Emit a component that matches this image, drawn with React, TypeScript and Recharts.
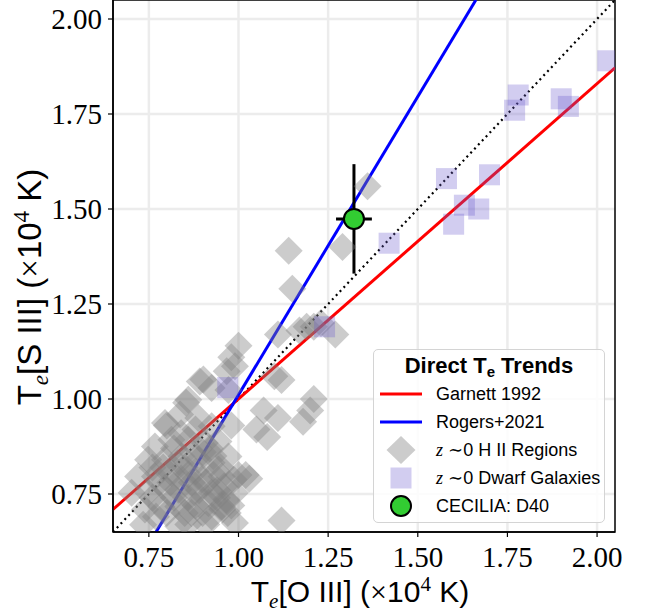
import React from 'react';
import {
  ComposedChart,
  Scatter,
  Line,
  XAxis,
  YAxis,
  CartesianGrid,
  ErrorBar,
  Legend,
  ReferenceArea,
} from 'recharts';

// ---------- data ----------
const xDomain: [number, number] = [0.65, 2.05];
const yDomain: [number, number] = [0.65, 2.05];
const xTicks = [0.75, 1.0, 1.25, 1.5, 1.75, 2.0];
const yTicks = [0.75, 1.0, 1.25, 1.5, 1.75, 2.0];

// z~0 H II regions (T[O III], T[S III]) in 1e4 K
const hiiRegions = [
  { x: 1.36, y: 1.56 }, { x: 1.29, y: 1.40 }, { x: 1.14, y: 1.39 }, { x: 1.15, y: 1.29 },
  { x: 1.27, y: 1.17 }, { x: 1.17, y: 1.18 }, { x: 1.19, y: 1.19 }, { x: 1.21, y: 1.19 },
  { x: 1.23, y: 1.2 }, { x: 1.11, y: 1.17 }, { x: 1.0, y: 1.14 }, { x: 0.98, y: 1.11 },
  { x: 1.1, y: 1.06 }, { x: 1.12, y: 1.05 }, { x: 1.21, y: 1.0 }, { x: 1.2, y: 0.97 },
  { x: 1.18, y: 0.94 }, { x: 1.07, y: 0.97 }, { x: 1.11, y: 0.95 }, { x: 1.08, y: 0.9 },
  { x: 1.05, y: 0.92 }, { x: 1.03, y: 0.79 }, { x: 1.0, y: 0.8 }, { x: 1.12, y: 0.68 },
  { x: 0.98, y: 0.72 }, { x: 0.98, y: 0.93 },
  { x: 0.967, y: 1.073 }, { x: 0.99, y: 1.086 }, { x: 0.902, y: 1.051 }, { x: 0.925, y: 1.029 },
  { x: 0.972, y: 1.024 }, { x: 0.86, y: 0.998 }, { x: 0.854, y: 0.99 }, { x: 0.795, y: 0.937 },
  { x: 0.837, y: 0.959 }, { x: 0.888, y: 0.95 }, { x: 0.925, y: 0.928 }, { x: 0.767, y: 0.875 },
  { x: 0.813, y: 0.893 }, { x: 0.86, y: 0.893 }, { x: 0.906, y: 0.884 }, { x: 0.944, y: 0.888 },
  { x: 0.748, y: 0.84 }, { x: 0.795, y: 0.84 }, { x: 0.841, y: 0.849 }, { x: 0.888, y: 0.84 },
  { x: 0.925, y: 0.832 }, { x: 0.972, y: 0.849 }, { x: 0.72, y: 0.796 }, { x: 0.767, y: 0.796 },
  { x: 0.813, y: 0.805 }, { x: 0.86, y: 0.801 }, { x: 0.897, y: 0.788 }, { x: 0.953, y: 0.796 },
  { x: 0.986, y: 0.788 }, { x: 0.702, y: 0.753 }, { x: 0.748, y: 0.753 }, { x: 0.832, y: 0.761 },
  { x: 0.879, y: 0.753 }, { x: 0.925, y: 0.753 }, { x: 0.739, y: 0.709 }, { x: 0.785, y: 0.717 },
  { x: 0.832, y: 0.717 }, { x: 0.869, y: 0.7 }, { x: 0.916, y: 0.726 }, { x: 0.953, y: 0.717 },
  { x: 0.734, y: 0.669 }, { x: 0.832, y: 0.665 }, { x: 0.925, y: 0.691 }, { x: 0.99, y: 0.674 },
  { x: 0.8, y: 0.93 }, { x: 0.892, y: 1.046 }, { x: 1.02, y: 0.8 }, { x: 0.99, y: 0.753 },
  { x: 0.966, y: 0.735 }, { x: 0.955, y: 0.71 }, { x: 0.78, y: 0.78 }, { x: 0.85, y: 0.82 },
  { x: 0.82, y: 0.87 }, { x: 0.87, y: 0.78 }, { x: 0.9, y: 0.86 }, { x: 0.93, y: 0.8 },
  { x: 0.88, y: 0.72 }, { x: 0.8, y: 0.7 }, { x: 0.76, y: 0.74 }, { x: 0.94, y: 0.76 },
  { x: 0.8, y: 0.76 }, { x: 0.84, y: 0.79 }, { x: 0.88, y: 0.81 }, { x: 0.91, y: 0.78 },
  { x: 0.86, y: 0.74 }, { x: 0.83, y: 0.83 }, { x: 0.87, y: 0.86 }, { x: 0.92, y: 0.87 },
  { x: 0.89, y: 0.76 }, { x: 0.82, y: 0.74 }, { x: 0.85, y: 0.7 }, { x: 0.9, y: 0.7 },
  { x: 0.94, y: 0.74 }, { x: 0.96, y: 0.77 }, { x: 0.79, y: 0.82 }, { x: 0.76, y: 0.82 },
  { x: 0.84, y: 0.91 }, { x: 0.88, y: 0.92 }, { x: 0.93, y: 0.85 }, { x: 0.95, y: 0.82 },
  { x: 0.81, y: 0.78 }, { x: 0.86, y: 0.67 }, { x: 0.91, y: 0.67 }, { x: 0.77, y: 0.69 },
  { x: 0.97, y: 0.7 },
];

// z~0 dwarf galaxies
const dwarfGalaxies = [
  { x: 2.03, y: 1.89 }, { x: 1.78, y: 1.8 }, { x: 1.77, y: 1.76 }, { x: 1.9, y: 1.79 },
  { x: 1.92, y: 1.77 }, { x: 1.58, y: 1.58 }, { x: 1.7, y: 1.59 }, { x: 1.63, y: 1.51 },
  { x: 1.67, y: 1.5 }, { x: 1.6, y: 1.46 }, { x: 1.42, y: 1.41 }, { x: 1.24, y: 1.19 },
  { x: 0.97, y: 1.03 },
];

// CECILIA D40 with errors
const cecilia = [{ x: 1.322, y: 1.474, ex: 0.05, ey: 0.144 }];

// relations (endpoints at the plot edges)
const garnett1992 = [{ x: 0.65, y: 0.7095 }, { x: 2.05, y: 1.8715 }];
const rogers2021 = [{ x: 0.77, y: 0.65 }, { x: 1.662, y: 2.05 }];
const oneToOne = [{ x: 0.65, y: 0.65 }, { x: 2.05, y: 2.05 }];

// ---------- styles ----------
const SERIF = '"Liberation Serif", "DejaVu Serif", serif';
const SANS = '"Liberation Sans", Arial, sans-serif';
const HII_FILL = '#808080';
const HII_OPACITY = 0.4;
const DWARF_FILL = '#6a5acd';
const DWARF_OPACITY = 0.3;

const DiamondShape = (props: any) => {
  const { cx, cy } = props;
  if (cx == null || cy == null) return null;
  const r = 14;
  return (
    <polygon
      points={`${cx},${cy - r} ${cx + r},${cy} ${cx},${cy + r} ${cx - r},${cy}`}
      fill={HII_FILL}
      fillOpacity={HII_OPACITY}
    />
  );
};

const SquareShape = (props: any) => {
  const { cx, cy } = props;
  if (cx == null || cy == null) return null;
  const h = 10.5;
  return <rect x={cx - h} y={cy - h} width={2 * h} height={2 * h} fill={DWARF_FILL} fillOpacity={DWARF_OPACITY} />;
};

const CircleShape = (props: any) => {
  const { cx, cy } = props;
  if (cx == null || cy == null) return null;
  return <circle cx={cx} cy={cy} r={10} fill="#32cd32" stroke="#000" strokeWidth={2} />;
};

const fmt = (v: number) => v.toFixed(2);

const XLabel = (props: any) => {
  const vb = props.viewBox || { x: 113, y: 532, width: 502, height: 83 };
  const x = vb.x + vb.width / 2 - 4;
  const y = vb.y + 70;
  return (
    <text x={x} y={y} textAnchor="middle" fontFamily={SANS} fontSize={30} fill="#000">
      T
      <tspan fontFamily={SERIF} fontStyle="italic" fontSize={21} dy={6}>e</tspan>
      <tspan dy={-6}>[O III] (</tspan>
      <tspan fontFamily={SERIF}>×</tspan>
      <tspan>10</tspan>
      <tspan fontFamily={SERIF} fontSize={21} dy={-11}>4</tspan>
      <tspan dy={11}> K)</tspan>
    </text>
  );
};

const YLabel = (props: any) => {
  const vb = props.viewBox || { x: 0, y: 0, width: 113, height: 532 };
  const x = vb.x + 41;
  const y = vb.y + vb.height / 2 + 21;
  return (
    <text
      x={x}
      y={y}
      transform={`rotate(-90 ${x} ${y})`}
      textAnchor="middle"
      fontFamily={SANS}
      fontSize={33}
      fill="#000"
    >
      T
      <tspan fontFamily={SERIF} fontStyle="italic" fontSize={23} dy={7}>e</tspan>
      <tspan dy={-7}>[S III] (</tspan>
      <tspan fontFamily={SERIF}>×</tspan>
      <tspan>10</tspan>
      <tspan fontFamily={SERIF} fontSize={23} dy={-12}>4</tspan>
      <tspan dy={12}> K)</tspan>
    </text>
  );
};

const legendRows = [
  { kind: 'line', color: '#ff0000', label: 'Garnett 1992' },
  { kind: 'line', color: '#0000ff', label: 'Rogers+2021' },
  { kind: 'diamond', label: 'H II Regions' },
  { kind: 'square', label: 'Dwarf Galaxies' },
  { kind: 'circle', label: 'CECILIA: D40' },
];

const LegendBox = () => (
  <div
    style={{
      position: 'relative',
      width: 232,
      height: 174,
      boxSizing: 'border-box',
      border: '1.5px solid #d4d4d4',
      borderRadius: 5,
      background: 'rgba(255,255,255,0.85)',
      fontFamily: SANS,
      color: '#000',
    }}
  >
    <div
      style={{
        position: 'absolute',
        left: 0,
        width: '100%',
        top: 3,
        textAlign: 'center',
        fontWeight: 'bold',
        fontSize: 22,
        lineHeight: '26px',
      }}
    >
      Direct T<sub style={{ fontSize: 15, verticalAlign: '-4px' }}>e</sub> Trends
    </div>
    {legendRows.map((r, i) => {
      const cy = 44 + i * 28;
      return (
        <div key={i} style={{ position: 'absolute', left: 0, top: cy - 14, height: 28, width: '100%' }}>
          <svg width={60} height={28} style={{ position: 'absolute', left: 0, top: 0 }}>
            {r.kind === 'line' && <line x1={6} x2={48} y1={14} y2={14} stroke={r.color} strokeWidth={3} />}
            {r.kind === 'diamond' && (
              <polygon points="27,0 41.5,14 27,28 12.5,14" fill={HII_FILL} fillOpacity={HII_OPACITY} />
            )}
            {r.kind === 'square' && (
              <rect x={16.5} y={3.5} width={21} height={21} fill={DWARF_FILL} fillOpacity={DWARF_OPACITY} />
            )}
            {r.kind === 'circle' && <circle cx={27} cy={14} r={10} fill="#32cd32" stroke="#000" strokeWidth={2} />}
          </svg>
          <div
            style={{
              position: 'absolute',
              left: 62,
              top: 0,
              lineHeight: '28px',
              fontSize: 18,
              whiteSpace: 'nowrap',
            }}
          >
            {r.kind === 'diamond' || r.kind === 'square' ? (
              <>
                <span style={{ fontFamily: SERIF, fontStyle: 'italic' }}>z</span>{' '}
                <span style={{ fontFamily: SERIF }}>∼</span>0 {r.label}
              </>
            ) : (
              r.label
            )}
          </div>
        </div>
      );
    })}
  </div>
);

export default function App() {
  return (
    <div style={{ position: 'absolute', left: 0, top: 0, width: 646, height: 615, background: '#fff' }}>
      <ComposedChart width={646} height={615} margin={{ top: 0, right: 31, bottom: 0, left: 0 }}>
        <CartesianGrid stroke="#ececec" strokeWidth={2.5} horizontalValues={yTicks} verticalValues={xTicks} />
        <XAxis
          type="number"
          dataKey="x"
          domain={xDomain}
          ticks={xTicks}
          allowDataOverflow
          height={83}
          tickFormatter={fmt}
          tick={{ fontFamily: SERIF, fontSize: 29, fill: '#000' }}
          tickLine={{ stroke: '#000', strokeWidth: 1.2 }}
          axisLine={{ stroke: '#000', strokeWidth: 1.5 }}
          tickSize={5}
          tickMargin={9}
          label={<XLabel />}
        />
        <YAxis
          type="number"
          dataKey="y"
          domain={yDomain}
          ticks={yTicks}
          allowDataOverflow
          width={113}
          tickFormatter={fmt}
          tick={{ fontFamily: SERIF, fontSize: 29, fill: '#000' }}
          tickLine={{ stroke: '#000', strokeWidth: 1.2 }}
          axisLine={{ stroke: '#000', strokeWidth: 1.5 }}
          tickSize={5}
          tickMargin={6}
          label={<YLabel />}
        />
        <ReferenceArea
          x1={xDomain[0]}
          x2={xDomain[1]}
          y1={yDomain[0]}
          y2={yDomain[1]}
          fill="none"
          stroke="#000"
          strokeWidth={1.5}
          fillOpacity={0}
        />
        <Scatter name="H II" data={hiiRegions} shape={<DiamondShape />} isAnimationActive={false} />
        <Scatter name="Dwarf" data={dwarfGalaxies} shape={<SquareShape />} isAnimationActive={false} />
        <Line
          data={oneToOne}
          dataKey="y"
          type="linear"
          stroke="#000"
          strokeWidth={2.2}
          strokeDasharray="2 3.6"
          dot={false}
          activeDot={false}
          isAnimationActive={false}
        />
        <Line
          data={garnett1992}
          dataKey="y"
          type="linear"
          stroke="#ff0000"
          strokeWidth={3}
          dot={false}
          activeDot={false}
          isAnimationActive={false}
        />
        <Line
          data={rogers2021}
          dataKey="y"
          type="linear"
          stroke="#0000ff"
          strokeWidth={3}
          dot={false}
          activeDot={false}
          isAnimationActive={false}
        />
        <Scatter name="D40" data={cecilia} shape={<CircleShape />} isAnimationActive={false}>
          <ErrorBar dataKey="ey" direction="y" width={0} stroke="#000" strokeWidth={3} />
          <ErrorBar dataKey="ex" direction="x" width={0} stroke="#000" strokeWidth={3} />
        </Scatter>
        <Legend
          layout="vertical"
          verticalAlign="middle"
          align="center"
          wrapperStyle={{ left: 373, top: 349, width: 232, height: 174 }}
          content={() => <LegendBox />}
        />
      </ComposedChart>
    </div>
  );
}
